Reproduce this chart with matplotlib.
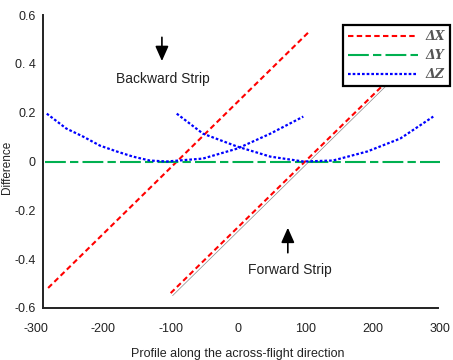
import matplotlib
matplotlib.use("Agg")
import matplotlib.pyplot as plt

# ---- data ----
# Backward strip
back_dx_x = [-282, 105]
back_dx_y = [-0.518, 0.530]
back_dz_x = [-284, -255, -230, -205, -180, -156, -131, -106, -52, -1, 48, 97]
back_dz_y = [0.196, 0.135, 0.102, 0.065, 0.041, 0.020, 0.004, 0.0, 0.012, 0.053, 0.114, 0.184]

# Forward strip
fwd_dx_x = [-100, 290]
fwd_dx_y = [-0.539, 0.514]
fwd_ref_x = [-97, 288]
fwd_ref_y = [-0.549, 0.494]
fwd_dz_x = [-91, -52, -1, 48, 97, 141, 192, 241, 290]
fwd_dz_y = [0.196, 0.114, 0.061, 0.020, 0.0, 0.004, 0.041, 0.094, 0.184]

# dY is flat on zero
dy_x = [-287, 300]
dy_y = [0.0, 0.0]

x_ticks = [-300, -200, -100, 0, 100, 200, 300]
y_ticks = [-0.6, -0.4, -0.2, 0, 0.2, 0.4, 0.6]
y_ticklabels = ["-0.6", "-0.4", "-0.2", "0", "0.2", "0. 4", "0.6"]

RED = "#ff0000"
GREEN = "#00b050"
BLUE = "#0000ff"

plt.rcParams["font.family"] = ["Liberation Sans", "DejaVu Sans"]
plt.rcParams["axes.unicode_minus"] = False

fig = plt.figure(figsize=(4.53, 3.6), dpi=100)
ax = fig.add_axes([36 / 453, 52 / 360, 404 / 453, 293 / 360])

ax.plot(fwd_ref_x, fwd_ref_y, color="#888888", lw=0.5)
l1, = ax.plot(back_dx_x, back_dx_y, color=RED, lw=1.5, dashes=[2.6, 1.6], label="ΔX")
ax.plot(fwd_dx_x, fwd_dx_y, color=RED, lw=1.5, dashes=[2.6, 1.6])
l2, = ax.plot(dy_x, dy_y, color=GREEN, lw=1.5, dashes=[10, 2, 4, 2], label="ΔY")
l3, = ax.plot(back_dz_x, back_dz_y, color=BLUE, lw=1.6, dashes=[1.2, 0.9], label="ΔZ")
ax.plot(fwd_dz_x, fwd_dz_y, color=BLUE, lw=1.6, dashes=[1.2, 0.9])

# strip annotations
arrow = dict(arrowstyle="-|>,head_length=0.9,head_width=0.4", color="black", lw=1.2)
ax.annotate("", xy=(-113, 0.40), xytext=(-113, 0.52), arrowprops=arrow)
ax.text(-111, 0.339, "Backward Strip", ha="center", va="center", fontsize=10, color="#222222")
ax.annotate("", xy=(74, -0.26), xytext=(74, -0.385), arrowprops=arrow)
ax.text(77, -0.445, "Forward Strip", ha="center", va="center", fontsize=10, color="#222222")

ax.set_xlim(-300, 300)
ax.set_ylim(-0.6, 0.6)
ax.set_xticks(x_ticks)
ax.set_yticks(y_ticks)
ax.set_yticklabels(y_ticklabels)
ax.tick_params(length=0, labelsize=9, colors="#222222")
ax.tick_params(axis="x", pad=11)
ax.tick_params(axis="y", pad=5)

for side in ["top", "right"]:
    ax.spines[side].set_visible(False)
ax.spines["left"].set_position(("data", -290))
ax.spines["left"].set_linewidth(1.4)
ax.spines["left"].set_color("#222222")
ax.spines["bottom"].set_bounds(-290, 297)
ax.spines["bottom"].set_linewidth(1.4)
ax.spines["bottom"].set_color("#222222")

ax.set_xlabel("Profile along the across-flight direction", fontsize=9, color="#222222", labelpad=9)
ax.set_ylabel("Difference", fontsize=8.5, color="#222222")
ax.yaxis.set_label_coords(-0.058, 0.48)

leg = ax.legend(handles=[l1, l2, l3], loc="upper right", bbox_to_anchor=(1.025, 0.966),
                borderaxespad=0, handlelength=5.6, handletextpad=0.6, fancybox=False, framealpha=1,
                prop={"family": "DejaVu Serif", "style": "italic", "weight": "bold", "size": 9})
leg.get_frame().set_edgecolor("black")
leg.get_frame().set_linewidth(1.6)
for t in leg.get_texts():
    t.set_color("#555555")

fig.savefig("out.png", dpi=100)
